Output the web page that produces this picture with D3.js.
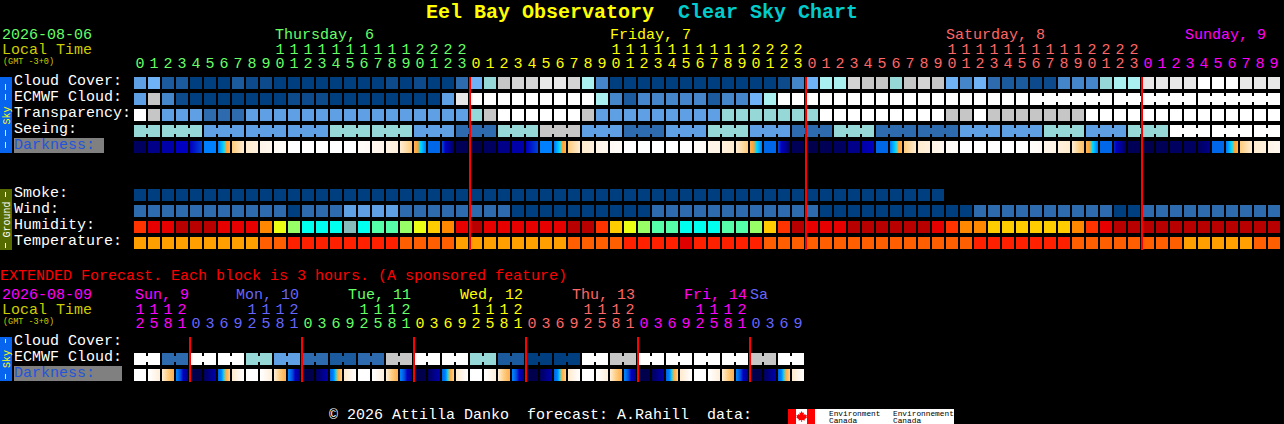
<!DOCTYPE html>
<html><head><meta charset="utf-8">
<script src="https://cdn.jsdelivr.net/npm/d3@7/dist/d3.min.js"></script>
<style>
html,body{margin:0;padding:0;background:#000;overflow:hidden}
svg{display:block}
text{font-family:"Liberation Mono","DejaVu Sans Mono",monospace;font-size:15px}
</style></head><body>
<script>
const titleName = "Eel Bay Observatory";
const titleChart = "Clear Sky Chart";
const mainDate = "2026-08-06";
const extDate = "2026-08-09";

// Hourly strip, level indices into palette
const cloudCover = [5,6,2,2,0,0,0,2,1,1,0,0,0,0,0,0,0,0,1,0,1,0,0,3,
  6,7,9,10,10,11,11,10,8,4,0,0,0,0,0,0,0,0,0,0,0,0,1,4,
  6,8,8,10,9,9,7,9,10,9,6,4,6,3,2,2,1,1,4,4,4,7,8,8,
  11,11,11,11,12,12,12,11,11,11];
const ecmwfCloud = [5,9,4,1,0,0,0,0,0,0,0,1,1,1,0,0,0,0,0,0,0,0,5,11,
  12,12,12,12,12,12,12,12,12,8,4,2,4,4,4,4,4,2,4,4,6,8,12,12,
  12,12,12,12,12,12,12,12,12,12,12,12,12,12,12,12,12,12,12,12,12,12,12,12,
  12,12,12,12,12,12,12,12,12,12];
const transparency = [12,9,5,5,5,3,3,3,5,5,5,5,5,5,5,5,5,5,5,5,5,5,5,5,
  7,9,12,12,12,12,12,12,9,5,5,5,5,5,5,5,5,5,7,7,7,7,7,7,
  7,12,12,12,12,12,12,12,12,12,9,9,12,9,9,9,9,9,9,9,12,12,12,12,
  12,12,12,12,12,12,12,12,12,12];
const seeing = [7,7,7,7,7,5,5,5,5,5,5,5,5,5,7,7,7,7,7,7,5,5,5,3,
  3,3,7,7,7,9,9,9,5,5,5,3,3,3,5,5,5,7,7,7,5,5,5,3,
  3,3,7,7,7,3,3,3,3,3,3,5,5,5,5,5,5,7,7,7,5,5,5,7,
  7,7,12,12,12,12,12,12,12,12];
const smoke = [0,0,0,0,0,0,0,0,0,0,0,0,0,0,0,0,0,0,0,0,0,0,0,0,
  0,0,0,0,0,0,0,0,0,0,0,0,0,0,0,0,0,0,0,0,0,0,0,0,
  0,0,0,0,0,0,0,0,0,0];
const wind = [3,3,3,3,3,3,3,3,3,3,3,0,3,3,3,5,5,5,5,3,3,3,3,3,
  3,3,3,0,0,0,0,0,0,0,0,0,0,3,3,3,3,3,3,3,3,3,3,3,
  3,0,0,0,0,0,0,0,0,0,0,0,3,3,3,3,3,3,3,3,3,3,0,0,
  3,3,3,3,3,3,3,3,3,3];
const humidity = [2,1,1,0,0,0,1,1,1,3,5,6,8,8,8,9,8,7,7,6,5,4,3,1,
  0,1,1,1,1,1,1,0,0,2,4,5,6,7,7,8,8,8,7,7,6,4,2,0,
  1,1,1,0,0,0,0,0,0,1,2,3,3,4,4,4,4,4,4,3,2,1,0,0,
  0,0,0,0,0,0,0,0,0,0];
const temperature = [0,0,0,0,0,0,0,0,0,1,1,2,2,2,2,2,2,2,2,1,1,1,1,0,
  0,0,0,0,0,0,0,1,1,1,1,2,2,2,2,3,2,2,2,2,2,1,1,1,
  1,1,1,1,1,1,1,1,1,1,1,1,2,2,2,2,2,2,2,1,1,1,1,1,
  1,1,1,0,0,0,0,0,1,1];
// Darkness: value at the left and right side of each block
const darkStart = [1,2,3,4,4,7,7,10,11,12,12.5,13,13,13,13,13,12.7,12.3,11.8,11,9,6,5,.5,
  0,1,2,3,4,7,7,10,11,12,12.5,13,13,13,13,13,12.7,12,11.5,11,9,6,5,.5,
  0,.5,1,2,3,6,7,10,11,12,12.5,13,13,13,13,13,12.8,12,11.5,11,9,6,4.5,.5,
  0,.5,1,1,1,6,7,10,11,12];
const darkEnd = [1,2,3,4,5,7,9,11,11.5,12.3,12.7,13,13,13,13,13,12.5,12,11.5,10,7,6,1,.5,
  0,1,2,3,5,7,9,11,11.5,12.3,12.7,13,13,13,13,13,12.5,12,11,10,7,6,1,.5,
  0,.5,1,2,4,6,9,11,11.5,12.3,12.7,13,13,13,13,13,12.5,12,11,9.5,7,6,1,.5,
  0,.5,1,1,2,6,9,11,11.5,12.3];
const seeingJoins = [[0,1],[2,4],[5,7],[8,10],[11,13],[14,16],[17,19],[20,22],[23,25],[26,28],[29,31],[32,34],[35,37],[38,40],[41,43],[44,46],[47,49],[50,52],[53,55],[56,58],[59,61],[62,64],[65,67],[68,70],[71,73],[74,76],[77,79],[80,81]];
const ecmwfJoins = [[64,69],[70,75],[76,81]];

// Extended strip
const extEcmwf = [12,12,3,3,12,12,12,12,7,7,5,5,3,3,2,2,3,3,9,9,12,12,12,12,
  7,7,2,2,0,0,0,0,12,12,9,9,12,12,12,12,12,12,12,12,9,9,12,12];
const extDarkStart = [13,13,11,7,0,1,6,11, 13,13,11,7,0,1,6,11, 13,13,11,7,0,1,6,11,
  13,13,11,7,0,1,6,11, 13,13,11,7,0,1,6,11, 13,13,11,7,0,1,6,11];
const extDarkEnd = [13,11.5,9,2,0,3,10,13, 13,11.5,9,2,0,3,10,13, 13,11.5,9,2,0,3,10,13,
  13,11.5,9,2,0,3,10,13, 13,11.5,9,2,0,3,10,13, 13,11.5,9,2,0,3,10,13];
const extJoins = [[0,1],[2,3],[4,5],[6,7],[8,9],[10,11],[12,13],[14,15],[16,17],[18,19],[20,21],[22,23],[24,25],[26,27],[28,29],[30,31],[32,33],[34,35],[36,37],[38,39],[40,41],[42,43],[44,45],[46,47]];

// Tick labels
const mainHours = [0,1,2,3,4,5,6,7,8,9,10,11,12,13,14,15,16,17,18,19,20,21,22,23,
  0,1,2,3,4,5,6,7,8,9,10,11,12,13,14,15,16,17,18,19,20,21,22,23,
  0,1,2,3,4,5,6,7,8,9,10,11,12,13,14,15,16,17,18,19,20,21,22,23,
  0,1,2,3,4,5,6,7,8,9];
const mainDays = [[0,"#66ff66"],[24,"#ffff00"],[48,"#ff6666"],[72,"#ff00ff"]];
const mainDayLabels = [["Thursday, 6",275,"#66ff66"],["Friday, 7",610,"#ffff00"],["Saturday, 8",946,"#ff6666"],["Sunday, 9",1185,"#ff00ff"]];
const extHours = [12,15,18,21,0,3,6,9,12,15,18,21,0,3,6,9,12,15,18,21,0,3,6,9,12,15,18,21,0,3,6,9,12,15,18,21,0,3,6,9,12,15,18,21,0,3,6,9];
const extDays = [[0,"#ff00ff"],[4,"#6666ff"],[12,"#66ff66"],[20,"#ffff00"],[28,"#ff6666"],[36,"#ff00ff"],[44,"#6666ff"]];
const extDayLabels = [["Sun, 9",135,"#ff00ff"],["Mon, 10",236,"#6666ff"],["Tue, 11",348,"#66ff66"],["Wed, 12",460,"#ffff00"],["Thu, 13",572,"#ff6666"],["Fri, 14",684,"#ff00ff"],["Sa",750,"#6666ff"]];
const midnights = [24,48,72];
const extMidnights = [4,12,20,28,36,44];

// Colour scales
const skyColor = d3.scaleOrdinal(d3.range(13),["#003f7f","#0c4a8b","#1a5a9d","#2e6bae","#4585c9","#5f9fe3","#70b2f6","#96d8d8","#aaf0f0","#c6c6c6","#d4d4d4","#e8e8e8","#ffffff"]);
const humColor = d3.scaleOrdinal(d3.range(10),["#b80000","#e60000","#ff3300","#ff8800","#ffcc00","#eaff14","#99ff66","#55ffaa","#00ffee","#85bdbd"]);
const tempColor = d3.scaleOrdinal(d3.range(4),["#ffa000","#ff5f00","#ff2000","#e00000"]);
const darkColor = d3.scaleLinear()
  .domain([0,1,2,3,4,5,6,7,8,8.4,9,10,11,12,13])
  .range(["#00004d","#000060","#000088","#0000a8","#0000c0","#0040d8","#0068e8","#0080ff","#00e0ff","#ffa030","#ffb050","#ffcc80","#ffecd0","#fff4e8","#ffffff"]);

const x = d3.scaleLinear().domain([0,82]).range([134,134+14*82]);
const xc = d3.scaleLinear().domain([0,82]).range([140,140+14*82]);
const CELL = 12, JOIN_Y = 3, JOIN_H = 6, TEXT_LIFT = 1;

const svg = d3.select("body").append("svg").attr("width",1284).attr("height",424);
svg.append("rect").attr("width",1284).attr("height",424).attr("fill","#000");

function label(t,px,py,fill,size,extra){
  const n = svg.append("text").attr("x",px).attr("y",py-TEXT_LIFT).attr("fill",fill).text(t);
  n.style("white-space","pre");
  if(size) n.style("font-size",size+"px");
  if(extra) n.style("font-weight",extra);
  return n;
}
function row(values,y,color,joins){
  const g = svg.append("g");
  g.selectAll("rect.c").data(values).join("rect").attr("class","c")
    .attr("x",(d,i)=>x(i)).attr("y",y).attr("width",CELL).attr("height",CELL)
    .attr("fill",d=>color(d)).attr("shape-rendering","crispEdges");
  if(joins){
    const links = joins.flatMap(([a,b])=>d3.range(a,b));
    g.selectAll("rect.j").data(links).join("rect").attr("class","j")
      .attr("x",i=>x(i)+CELL).attr("y",y+JOIN_Y).attr("width",x(1)-x(0)-CELL).attr("height",JOIN_H)
      .attr("fill",i=>color(values[i])).attr("shape-rendering","crispEdges");
  }
}
function darkRow(starts,ends,y){
  const cols = starts.flatMap((s,i)=>d3.range(CELL).map(k=>({i,k,v:s+(ends[i]-s)*k/(CELL-1)})));
  svg.append("g").selectAll("rect").data(cols).join("rect")
    .attr("x",d=>x(d.i)+d.k).attr("y",y).attr("width",1).attr("height",CELL)
    .attr("fill",d=>darkColor(d.v)).attr("shape-rendering","crispEdges");
}
function digits(ticks,labels,colorOf,y){
  const g = svg.append("g").attr("transform",`translate(-0.5,${y-TEXT_LIFT})`)
    .call(d3.axisTop(xc).tickValues(ticks).tickFormat((d,i)=>labels[i]).tickSize(0).tickPadding(0));
  g.select(".domain").remove();
  g.attr("font-family",null).attr("font-size",null);
  g.selectAll("text").attr("fill",d=>colorOf(d)).attr("dy",null).attr("y",0).style("font-size","15px");
}
function colorAt(table){ return i => { let c=table[0][1]; for(const [s,k] of table) if(i>=s) c=k; return c; }; }
function sidebar(y,h,fill,dashes,dashColor,word,wordY,wordSize){
  svg.append("rect").attr("x",0).attr("y",y).attr("width",12).attr("height",h).attr("fill",fill);
  svg.append("g").selectAll("rect").data(dashes).join("rect")
    .attr("x",5).attr("y",d=>d[0]).attr("width",1).attr("height",d=>d[1]-d[0]).attr("fill",dashColor);
  svg.append("text").attr("transform",`translate(9.5,${wordY}) rotate(-90)`)
    .attr("text-anchor","middle").attr("fill",dashColor).style("font-size",wordSize+"px").text(word);
}

// Title
label(titleName,426,19,"#ffff00",20,"bold");
label(titleChart,678,19,"#00cccc",20,"bold");

// Main header
label(mainDate,2,40,"#66ff66");
label("Local Time",2,55,"#cccc00");
label("(GMT -3+0)",3,65,"#cccc00",8.5);
mainDayLabels.forEach(d=>label(d[0],d[1],40,d[2]));
const mainColor = colorAt(mainDays);
const mainTicks = mainHours.map((h,i)=>i);
const mainTens = mainTicks.filter(i=>mainHours[i]>=10);
digits(mainTens,mainTens.map(i=>Math.floor(mainHours[i]/10)),mainColor,55);
digits(mainTicks,mainHours.map(h=>h%10),mainColor,69);

// Main rows
const labelX = 14;
sidebar(77,76,"#0664ee",[[84,90],[94,100],[130,136],[142,148]],"#ffff00","Sky",115.5,10);
[["Cloud Cover:",86],["ECMWF Cloud:",102],["Transparency:",118],["Seeing:",134]].forEach(d=>label(d[0],labelX,d[1],"#fff"));
svg.append("rect").attr("x",14).attr("y",138).attr("width",90).attr("height",15).attr("fill","#808080");
label("Darkness:",labelX,150,"#2255dd");
row(cloudCover,77,skyColor);
row(ecmwfCloud,93,skyColor,ecmwfJoins);
row(transparency,109,skyColor);
row(seeing,125,skyColor,seeingJoins);
darkRow(darkStart,darkEnd,141);

sidebar(189,61,"#556b00",[[192,197],[243,248]],"#ffffff","Ground",219.5,10);
[["Smoke:",198],["Wind:",214],["Humidity:",230],["Temperature:",246]].forEach(d=>label(d[0],labelX,d[1],"#fff"));
row(smoke,189,skyColor);
row(wind,205,skyColor);
row(humidity,221,humColor);
row(temperature,237,tempColor);

svg.append("g").selectAll("rect").data(midnights).join("rect")
  .attr("x",d=>x(d)-1).attr("y",77).attr("width",2).attr("height",173).attr("fill","#f00");

// Extended
label("EXTENDED Forecast. Each block is 3 hours. (A sponsored feature)",0,281,"#ff0000");
label(extDate,2,300,"#ff00ff");
label("Local Time",2,315,"#cccc00");
label("(GMT -3+0)",3,325,"#cccc00",8.5);
extDayLabels.forEach(d=>label(d[0],d[1],300,d[2]));
const extColor = colorAt(extDays);
const extTicks = extHours.map((h,i)=>i);
const extTens = extTicks.filter(i=>extHours[i]>=10);
digits(extTens,extTens.map(i=>Math.floor(extHours[i]/10)),extColor,315);
digits(extTicks,extHours.map(h=>h%10),extColor,329);

sidebar(337,44,"#0664ee",[[339,343],[374,379]],"#ffff00","Sky",359,10);
[["Cloud Cover:",346],["ECMWF Cloud:",362]].forEach(d=>label(d[0],labelX,d[1],"#fff"));
svg.append("rect").attr("x",14).attr("y",366).attr("width",108).attr("height",15).attr("fill","#808080");
label("Darkness:",labelX,378,"#2255dd");
row(extEcmwf,353,skyColor,extJoins);
darkRow(extDarkStart,extDarkEnd,369);
svg.append("g").selectAll("rect").data(extMidnights).join("rect")
  .attr("x",d=>x(d)-1).attr("y",337).attr("width",2).attr("height",45).attr("fill","#f00");

// Footer
label("\u00a9 2026 Attilla Danko  forecast: A.Rahill  data:",329,420,"#fff");
svg.append("rect").attr("x",788).attr("y",409).attr("width",166).attr("height",15).attr("fill","#fff");
svg.append("rect").attr("x",788).attr("y",409).attr("width",8).attr("height",15).attr("fill","#f00");
svg.append("rect").attr("x",807).attr("y",409).attr("width",8).attr("height",15).attr("fill","#f00");
svg.append("path").attr("fill","#f00").attr("d","M801.5 411l1.2 2 1.3-.6-.4 2.6 1.6-1 .5 1.2 1.3-.2-.6 2 .8.6-2.6 1.6.3 1.2-2.8-.3v2h-.8v-2l-2.8.3.3-1.2-2.6-1.6.8-.6-.6-2 1.3.2.5-1.2 1.6 1-.4-2.6 1.3.6z");
[["Environment",829,416.5],["Canada",829,424],["Environnement",893,416.5],["Canada",893,424]].forEach(d=>label(d[0],d[1],d[2],"#000",7.8));
</script>
</body></html>
